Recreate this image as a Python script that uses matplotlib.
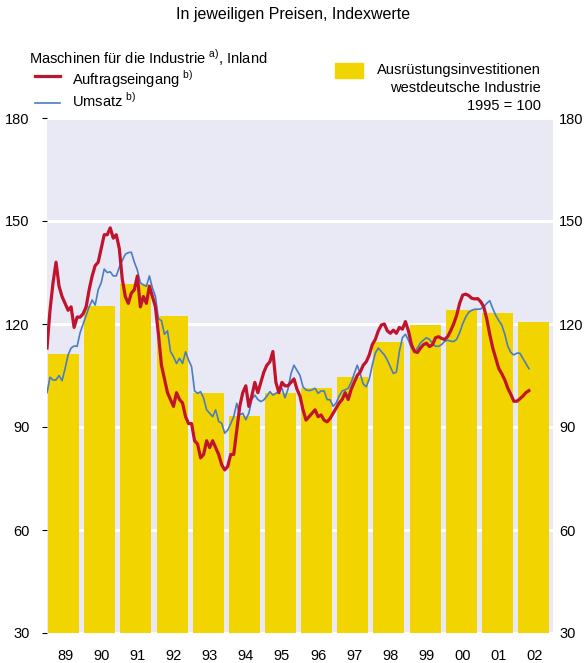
import numpy as np
import matplotlib
matplotlib.use("Agg")
import matplotlib.pyplot as plt

plt.rcParams['font.family'] = ['Liberation Sans', 'DejaVu Sans']
plt.rcParams['mathtext.fontset'] = 'custom'
plt.rcParams['mathtext.rm'] = 'Liberation Sans'

# Jahreswerte Ausrüstungsinvestitionen (1995 = 100)
years = ['89', '90', '91', '92', '93', '94', '95', '96', '97', '98', '99', '00', '01', '02']
invest = [111.3, 125.2, 131.6, 122.3, 99.9, 93.2, 100.0, 101.4, 104.6, 114.8, 119.7, 124.1, 123.2, 120.6]

# Monatswerte ab Januar 1989
auftrag = [113, 124, 132, 138, 131, 128, 126, 124, 125, 119, 122, 122,
           123, 125, 130, 134, 137, 138, 142, 146, 146, 148, 145, 146,
           142, 133, 128, 126, 129, 130, 134, 125, 128, 126, 131, 128,
           125, 117, 108, 104, 100, 98, 96, 100, 98, 97, 93, 91,
           91, 86, 85, 81, 82, 86, 84, 86, 84, 82, 79, 77.5,
           78.5, 82, 82, 89, 96, 100, 102, 96, 99, 103, 100, 103,
           106, 108, 109, 112, 103, 100, 103, 102, 102, 103, 104, 101,
           99, 95, 92, 93, 94, 95, 93, 93.5, 92, 91.5, 92.5, 94,
           95.5, 97, 98, 100, 98, 101, 103, 105, 106, 108, 109, 111,
           114, 115.5, 118, 119.7, 120, 118, 117.3, 118.2, 117.3, 119, 118.5, 120.7,
           118, 114, 112, 111.7, 113, 114, 114.4, 113.4, 114, 116, 116.3, 115.8,
           115.5, 116.3, 118, 120, 122.5, 126, 128.4, 128.7, 128.3, 127.5, 127.3, 127.4,
           126.5, 125, 121.5, 117, 113, 110, 107, 105.5, 103.7, 101.3, 99.5, 97.5,
           97.5, 98.2, 99, 100, 100.6]
umsatz = [100, 104.5, 103.7, 103.7, 105, 103.5, 107, 111, 113, 113.6, 113.5, 117.5,
          120, 122.5, 125, 127, 125.5, 130, 132, 136, 135, 135.2, 134, 134,
          136.5, 138.5, 140.3, 140.8, 140.9, 138, 135.7, 132, 131.4, 131, 134, 130.5,
          128, 121.5, 121, 117, 118, 112, 110.5, 108.5, 110, 108.5, 111.9, 109.5,
          107.6, 100.5, 99.8, 100.3, 98.4, 95, 94, 93, 95, 91.6, 91.1, 88.2,
          89.1, 91, 93, 96.9, 93.5, 94, 92.1, 94, 98, 99.3, 98, 97.4,
          97.9, 99, 100.3, 99.3, 99.8, 100.5, 101.3, 98.5, 101, 105.5, 108, 106.5,
          105, 101.7, 100.8, 100.6, 100.8, 101.3, 99.8, 100.5, 100.5, 98, 97.9, 96,
          97, 99, 100.5, 100.8, 101.3, 103, 105.5, 108, 105.5, 102.5, 101.7, 104,
          108, 111.5, 113, 112, 111, 109.5, 107.5, 105.6, 106, 112, 116, 117,
          115.3, 113, 112, 113, 114.5, 115.3, 116, 115.5, 114.3, 113.5, 113.5, 114,
          114.9, 115.3, 115, 114.9, 115.5, 117.5, 120, 122, 123.4, 124, 124.3, 124.3,
          124.4, 125, 126, 126.8, 124.5, 122.5, 121, 119.7, 117, 113.5, 111.7, 111,
          111.5, 111.5, 110, 108.5, 107]

yticks = [30, 60, 90, 120, 150, 180]

fig = plt.figure(figsize=(5.87, 6.63), dpi=100)
ax = fig.add_axes([47 / 587, 1 - 633 / 663, 506 / 587, 515 / 663])
ax.set_facecolor('#E8E9F5')

x_year = np.arange(len(years))
ax.bar(x_year + 0.46, np.array(invest) - 30, bottom=30, width=0.86,
       color='#F2D500', zorder=2)

x_m = np.arange(len(auftrag)) / 12
ax.plot(x_m, auftrag, color='#C0142E', lw=2.3, zorder=4, solid_joinstyle='round')
x_u = np.arange(len(umsatz)) / 12
ax.plot(x_u, umsatz, color='#4A7CC4', lw=1.2, zorder=3)

ax.set_xlim(0, len(years))
ax.set_ylim(30, 180)
ax.set_yticks(yticks)
ax.set_xticks(x_year + 0.5)
ax.set_xticklabels(years)
ax.grid(axis='y', color='white', lw=2.2, zorder=1)
ax.set_axisbelow(True)
for s in ax.spines.values():
    s.set_visible(False)
ax.tick_params(axis='y', left=False, labelsize=10.5, pad=9)
ax.tick_params(axis='x', bottom=False, labelsize=10.5, pad=8)

ax2 = ax.twinx()
ax2.set_ylim(30, 180)
ax2.set_yticks(yticks)
for s in ax2.spines.values():
    s.set_visible(False)
ax2.tick_params(axis='y', right=False, labelsize=10.5, pad=1)

fig.text(0.5, 1 - 15 / 663, 'In jeweiligen Preisen, Indexwerte', ha='center',
         va='center', fontsize=11.5)
fig.text(29 / 587, 1 - 58 / 663, r'Maschinen für die Industrie $^{\mathrm{a)}}$, Inland',
         ha='left', va='center', fontsize=10.5)
fig.text(72 / 587, 1 - 79 / 663, r'Auftragseingang $^{\mathrm{b)}}$',
         ha='left', va='center', fontsize=10.5)
fig.text(72 / 587, 1 - 100 / 663, r'Umsatz $^{\mathrm{b)}}$',
         ha='left', va='center', fontsize=10.5)
fig.add_artist(plt.Line2D([35 / 587, 60 / 587], [1 - 76 / 663] * 2, color='#C0142E', lw=2.3))
fig.add_artist(plt.Line2D([35 / 587, 60 / 587], [1 - 103 / 663] * 2, color='#4A7CC4', lw=1.2))
fig.add_artist(plt.Rectangle((335 / 587, 1 - 78 / 663), 28 / 587, 15 / 663,
                             color='#F2D500', transform=fig.transFigure))
fig.text(541 / 587, 1 - 70 / 663, 'Ausrüstungsinvestitionen', ha='right', va='center', fontsize=10.5)
fig.text(541 / 587, 1 - 88 / 663, 'westdeutsche Industrie', ha='right', va='center', fontsize=10.5)
fig.text(541 / 587, 1 - 106 / 663, '1995 = 100', ha='right', va='center', fontsize=10.5)

fig.savefig('out.png', dpi=100)
